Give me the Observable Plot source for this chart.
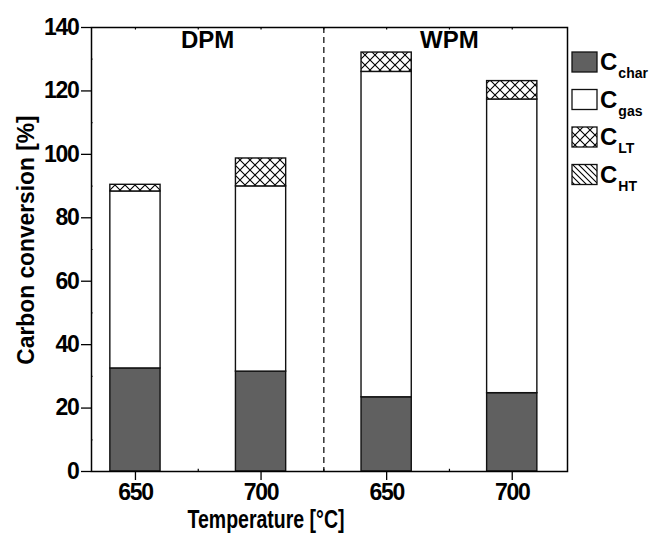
<!DOCTYPE html>
<html>
<head>
<meta charset="utf-8">
<script src="https://cdn.jsdelivr.net/npm/d3@7"></script>
<script src="https://cdn.jsdelivr.net/npm/@observablehq/plot@0.6"></script>
<style>
  body { margin: 0; background: #fff; }
  svg { display: block; }
</style>
</head>
<body>
<div id="chart"></div>
<script>
// Data
const categories = ["650", "700", "650", "700"];
const groups = ["DPM", "WPM"];
const cChar = [32.5, 31.5, 23.4, 24.7];
const cGas  = [55.8, 58.4, 102.6, 92.6];
const cLT   = [2.1, 8.8, 6.1, 5.8];
const cHT   = [0, 0, 0, 0];
const yTicks = [0, 20, 40, 60, 80, 100, 120, 140];
const legendLabels = [["C", "char"], ["C", "gas"], ["C", "LT"], ["C", "HT"]];

const FONT = "'Liberation Sans', Arial, sans-serif";

// stacked table built from arrays
const comps = [
  {key: "char", vals: cChar, fill: "#606060"},
  {key: "gas", vals: cGas, fill: "#ffffff"},
  {key: "LT", vals: cLT, fill: "url(#xhatch)"},
  {key: "HT", vals: cHT, fill: "url(#dhatch)"}
];
const rows = [];
categories.forEach((c, i) => {
  let base = 0;
  comps.forEach(comp => {
    const v = comp.vals[i];
    rows.push({i, key: comp.key, y1: base, y2: base + v, v});
    base += v;
  });
});

const half = 0.2;
const xDom = [-0.35, 3.44];
const barMarks = comps.map(comp =>
  Plot.rect(rows.filter(r => r.key === comp.key && r.v > 0), {
    x1: d => d.i - half, x2: d => d.i + half, y1: "y1", y2: "y2",
    fill: comp.fill, stroke: "#111", strokeWidth: 1.4
  })
);

const chart = Plot.plot({
  width: 654,
  height: 533,
  marginLeft: 91,
  marginRight: 87,
  marginTop: 27,
  marginBottom: 62,
  style: {fontFamily: FONT, fontWeight: "bold", fontSize: "23px", color: "#000", background: "#fff"},
  x: {domain: xDom, axis: null},
  y: {domain: [0, 140], axis: null},
  marks: [
    ...barMarks,
    Plot.ruleX([1.5], {stroke: "#000", strokeWidth: 1.2, strokeDasharray: "6,4"}),
    Plot.text(groups, {x: (d, k) => k === 0 ? (xDom[0] + 1.5) / 2 : 2.5, y: 136, text: d => d, fontSize: 24, fill: "#000"}),
    Plot.frame({stroke: "#000", strokeWidth: 1.5}),
    Plot.axisY({ticks: yTicks, tickSize: 10, tickPadding: 3, tickFormat: d => d, fontSize: 23, anchor: "left", label: null, stroke: "#000", strokeWidth: 1.3}),
    Plot.ruleY([10, 30, 50, 70, 90, 110, 130], {x1: xDom[0], x2: xDom[0] + 0.012, stroke: "#000", strokeWidth: 1.2}),
    Plot.axisX({ticks: [0, 1, 2, 3], tickSize: 9, tickPadding: 3, tickFormat: i => categories[i], fontSize: 23, anchor: "bottom", label: null, strokeWidth: 1.3}),
    Plot.ruleX([0.5, 1.5, 2.5], {y1: 0, y2: 0.7, stroke: "#000", strokeWidth: 1.2}),
    Plot.ruleX([0, 0.5, 1, 1.5, 2, 2.5, 3], {y1: 140, y2: 139.2, stroke: "#000", strokeWidth: 1.2})
  ]
});

document.getElementById("chart").appendChild(chart);

const svg = d3.select(chart);
// condense tick labels a bit like the reference's narrow bold face
svg.selectAll("g[aria-label='y-axis tick label'] text, g[aria-label='x-axis tick label'] text")
  .attr("letter-spacing", "-1.3px");

const defs = svg.insert("defs", ":first-child");
const xp = defs.append("pattern").attr("id", "xhatch").attr("patternUnits", "userSpaceOnUse")
  .attr("width", 10).attr("height", 10);
xp.append("rect").attr("width", 10).attr("height", 10).attr("fill", "#fff");
xp.append("path").attr("d", "M0,0L10,10M10,0L0,10").attr("stroke", "#000").attr("stroke-width", 1.1);
const dp = defs.append("pattern").attr("id", "dhatch").attr("patternUnits", "userSpaceOnUse")
  .attr("width", 6).attr("height", 6);
dp.append("rect").attr("width", 6).attr("height", 6).attr("fill", "#fff");
dp.append("path").attr("d", "M0,0L6,6M-3,3L3,9M3,-3L9,3").attr("stroke", "#000").attr("stroke-width", 1.1);

// axis titles (horizontally condensed)
svg.append("g").attr("transform", "translate(266,528) scale(0.75,1)")
  .append("text").attr("text-anchor", "middle")
  .attr("font-family", FONT).attr("font-weight", "bold").attr("font-size", 26).attr("fill", "#000")
  .text("Temperature [°C]");
svg.append("g").attr("transform", "translate(34,240) rotate(-90) scale(0.95,1)")
  .append("text").attr("text-anchor", "middle")
  .attr("font-family", FONT).attr("font-weight", "bold").attr("font-size", 24).attr("fill", "#000")
  .text("Carbon conversion [%]");

// legend
const lg = svg.append("g");
legendLabels.forEach((lab, k) => {
  const y0 = 52 + k * 37.5;
  lg.append("rect").attr("x", 572).attr("y", y0).attr("width", 25).attr("height", 20)
    .attr("fill", comps[k].fill).attr("stroke", "#111").attr("stroke-width", 1.3);
  const t = lg.append("text").attr("x", 600).attr("y", y0 + 18).attr("text-anchor", "start")
    .attr("font-family", FONT).attr("font-weight", "bold").attr("font-size", 24).attr("fill", "#000");
  t.append("tspan").text(lab[0]);
  t.append("tspan").attr("font-size", 14).attr("dy", 8).attr("dx", 1).text(lab[1]);
});
</script>
</body>
</html>
